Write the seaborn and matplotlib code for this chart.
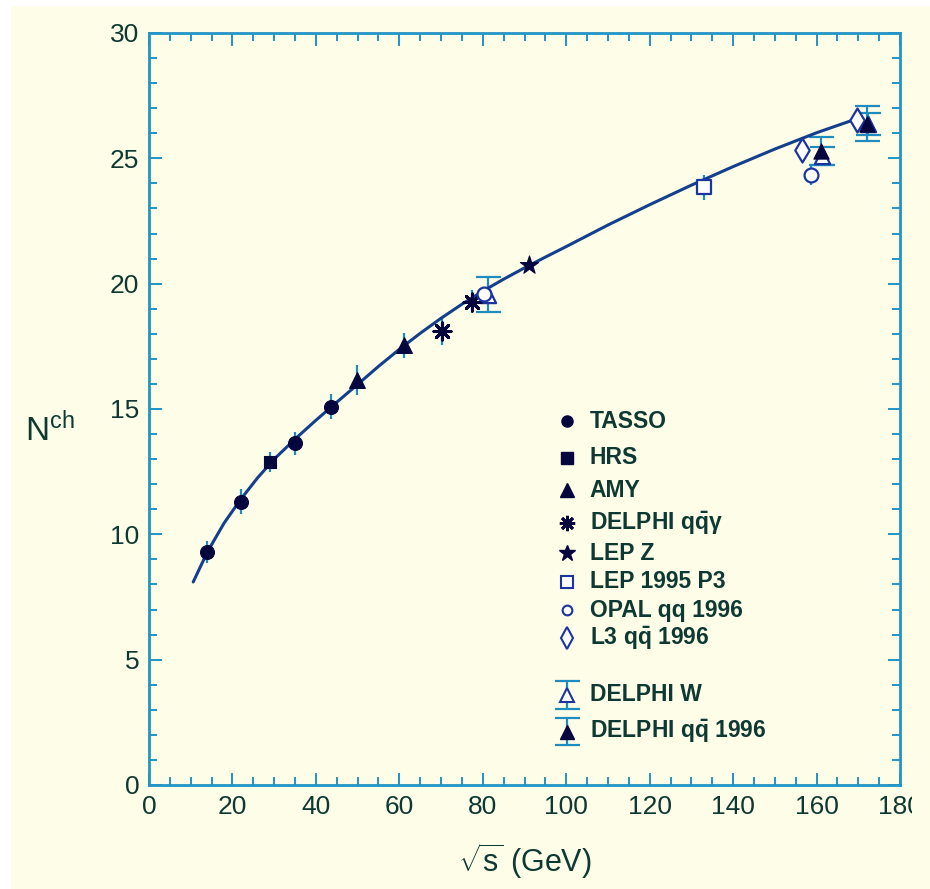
"""
Charged multiplicity vs centre-of-mass energy, redrawn with seaborn.
"""

import matplotlib
matplotlib.use("Agg")
import matplotlib.pyplot as plt
import seaborn as sns
from matplotlib.ticker import MultipleLocator
from matplotlib.patches import Rectangle
from matplotlib.transforms import Bbox, TransformedBbox

# ---------------------------------------------------------------------------
# Data
# ---------------------------------------------------------------------------

fit_x = [10.6, 14, 18, 22, 26, 30, 35, 40, 45, 50, 55, 60, 65, 70, 75, 80,
         85, 90, 95, 100, 110, 120, 130, 140, 150, 160, 170]
fit_y = [8.1, 9.3, 10.45, 11.4, 12.25, 13.0, 13.8, 14.55, 15.27, 15.98, 16.7,
         17.38, 18.02, 18.62, 19.18, 19.7, 20.18, 20.63, 21.06, 21.48, 22.34,
         23.15, 23.93, 24.67, 25.37, 26.02, 26.6]

tasso_x = [14, 22, 35, 43.6]
tasso_y = [9.3, 11.3, 13.63, 15.09]
tasso_err = [0.45, 0.5, 0.45, 0.5]

hrs_x = [29]
hrs_y = [12.87]
hrs_err = [0.4]

amy_x = [49.8, 61.2]
amy_y = [16.15, 17.55]
amy_err = [0.6, 0.5]

delphi_gam_x = [70.2, 77.3]
delphi_gam_y = [18.12, 19.28]
delphi_gam_err = [0.55, 0.45]

lepz_x = [91.0]
lepz_y = [20.75]
lepz_err = [0.2]

lep95_x = [133.0]
lep95_y = [23.85]
lep95_err = [0.5]

opal_x = [80.4, 158.6]
opal_y = [19.6, 24.33]
opal_err = [0.0, 0.4]

l3_x = [156.6, 169.6]
l3_y = [25.33, 26.53]

delphi_w_x = [81.3, 161.2, 172.4]
delphi_w_y = [19.55, 25.1, 26.37]
delphi_w_err = [0.7, 0.35, 0.44]

delphi_qq_x = [161.0, 172.2]
delphi_qq_y = [25.3, 26.38]
delphi_qq_err = [0.55, 0.7]

legend_labels = [
    "TASSO",
    "HRS",
    "AMY",
    r"DELPHI $\mathbf{q\bar{q}\gamma}$",
    "LEP Z",
    "LEP 1995 P3",
    "OPAL qq 1996",
    r"L3 $\mathbf{q\bar{q}}$ 1996",
    "DELPHI W",
    r"DELPHI $\mathbf{q\bar{q}}$ 1996",
]

# ---------------------------------------------------------------------------
# Styling
# ---------------------------------------------------------------------------

BG = "#fefde8"
SPINE = "#2294c6"
DARK = "#06063f"
OPEN_EDGE = "#1a34a0"
ERR = "#1f8cc0"
CURVE = "#143f8c"
TXT = "#0e3932"

sns.set_theme(style="ticks")
plt.rcParams["font.family"] = ["Liberation Sans", "DejaVu Sans"]
plt.rcParams["mathtext.fontset"] = "custom"
plt.rcParams["mathtext.rm"] = "Liberation Sans"
plt.rcParams["mathtext.it"] = "Liberation Sans:italic"
plt.rcParams["mathtext.bf"] = "Liberation Sans:bold"

fig = plt.figure(figsize=(9.3, 8.89), dpi=100, facecolor=BG)
ax = fig.add_axes([149 / 930, 104 / 889, 751 / 930, 752 / 889], facecolor=BG)

# thin white border at top / left, as in the scan
fig.add_artist(Rectangle((0, 0), 10 / 930, 1, transform=fig.transFigure,
                         color="white", zorder=-5))
fig.add_artist(Rectangle((0, 1 - 5 / 889), 1, 5 / 889, transform=fig.transFigure,
                         color="white", zorder=-5))

# fit curve
sns.lineplot(x=fit_x, y=fit_y, ax=ax, color=CURVE, linewidth=2.2,
             sort=False, zorder=2)

# error bars (no caps for the older measurements)
plain = [
    (tasso_x, tasso_y, tasso_err),
    (hrs_x, hrs_y, hrs_err),
    (amy_x, amy_y, amy_err),
    (delphi_gam_x, delphi_gam_y, delphi_gam_err),
    (lepz_x, lepz_y, lepz_err),
    (lep95_x, lep95_y, lep95_err),
    (opal_x, opal_y, opal_err),
]
for xs, ys, es in plain:
    ax.errorbar(xs, ys, yerr=es, fmt="none", ecolor=ERR, elinewidth=1.6,
                capsize=0, zorder=1)

ax.errorbar(delphi_w_x, delphi_w_y, yerr=delphi_w_err, fmt="none", ecolor=ERR,
            elinewidth=1.6, capsize=9, capthick=1.6, zorder=1)
ax.errorbar(delphi_qq_x, delphi_qq_y, yerr=delphi_qq_err, fmt="none", ecolor=ERR,
            elinewidth=1.6, capsize=9, capthick=1.6, zorder=1)

# markers
filled = dict(color=DARK, edgecolor=DARK, linewidth=0.8, zorder=4, legend=False)
opened = dict(color="white", edgecolor=OPEN_EDGE, linewidth=1.6, legend=False)

sns.scatterplot(x=tasso_x, y=tasso_y, marker="o", s=100, ax=ax, **filled)
sns.scatterplot(x=hrs_x, y=hrs_y, marker="s", s=85, ax=ax, **filled)
sns.scatterplot(x=amy_x, y=amy_y, marker="^", s=130, ax=ax, **filled)
sns.scatterplot(x=delphi_gam_x, y=delphi_gam_y, marker=(8, 2, 0), s=150, ax=ax,
                color=DARK, linewidth=2.2, zorder=4, legend=False)
sns.scatterplot(x=lepz_x, y=lepz_y, marker="*", s=190, ax=ax, **filled)
sns.scatterplot(x=lep95_x, y=lep95_y, marker="s", s=110, ax=ax, zorder=3, **opened)
sns.scatterplot(x=l3_x, y=l3_y, marker="d", s=150, ax=ax, zorder=3, **opened)
sns.scatterplot(x=delphi_w_x, y=delphi_w_y, marker="^", s=120, ax=ax, zorder=3, **opened)
sns.scatterplot(x=opal_x, y=opal_y, marker="o", s=100, ax=ax, zorder=5, **opened)
sns.scatterplot(x=delphi_qq_x, y=delphi_qq_y, marker="^", s=120, ax=ax, **filled)

# ---------------------------------------------------------------------------
# Hand-made legend (the original has a gap before the DELPHI entries)
# ---------------------------------------------------------------------------

leg_x, txt_x = 0.5566, 0.587
leg_rows = [0.484, 0.435, 0.392, 0.348, 0.3085, 0.270, 0.2327, 0.1955, 0.1197, 0.0709]
leg_styles = [
    dict(marker="o", ms=8, mfc=DARK, mec=DARK),
    dict(marker="s", ms=8, mfc=DARK, mec=DARK),
    dict(marker="^", ms=10, mfc=DARK, mec=DARK),
    dict(marker=(8, 2, 0), ms=11, mec=DARK, mew=2.0),
    dict(marker="*", ms=12, mfc=DARK, mec=DARK),
    dict(marker="s", ms=9, mfc="white", mec=OPEN_EDGE, mew=1.5),
    dict(marker="o", ms=7, mfc="white", mec=OPEN_EDGE, mew=1.5),
    dict(marker="d", ms=11, mfc="white", mec=OPEN_EDGE, mew=1.5),
    dict(marker="^", ms=10, mfc="white", mec=OPEN_EDGE, mew=1.5),
    dict(marker="^", ms=10, mfc=DARK, mec=DARK),
]
for i, (label, yy, st) in enumerate(zip(legend_labels, leg_rows, leg_styles)):
    if i >= 8:
        ax.errorbar([leg_x], [yy], yerr=[0.018], fmt="none", ecolor=ERR,
                    elinewidth=1.6, capsize=9, capthick=1.6,
                    transform=ax.transAxes, clip_on=False, zorder=3)
    ax.plot([leg_x], [yy], linestyle="none", transform=ax.transAxes,
            clip_on=False, zorder=4, **st)
    ax.text(txt_x, yy, label, transform=ax.transAxes, fontsize=16.5,
            fontweight="bold", color=TXT, ha="left", va="center")

# ---------------------------------------------------------------------------
# Axes
# ---------------------------------------------------------------------------

ax.set_xlim(0, 180)
ax.set_ylim(0, 30)
ax.xaxis.set_major_locator(MultipleLocator(20))
ax.xaxis.set_minor_locator(MultipleLocator(5))
ax.yaxis.set_major_locator(MultipleLocator(5))
ax.yaxis.set_minor_locator(MultipleLocator(1))
ax.tick_params(which="both", direction="in", top=True, right=True,
               color=SPINE, labelcolor=TXT, labelsize=19)
ax.tick_params(which="major", length=9, width=1.4, pad=7)
ax.tick_params(which="minor", length=5.5, width=1.4)
for sp in ax.spines.values():
    sp.set_color(SPINE)
    sp.set_linewidth(2)

ax.set_xlabel(r"$\sqrt{\mathrm{s}}$ (GeV)", fontsize=22, color=TXT, labelpad=16)
ax.set_ylabel(r"N$^{\mathrm{ch}}$", fontsize=24, color=TXT, rotation=0,
              ha="center", va="center")
ax.yaxis.set_label_coords(-0.132, 0.472)

# the scan cuts the last x label at the right edge
fig.canvas.draw()
clip = TransformedBbox(Bbox([[0, 0], [912 / 930, 1]]), fig.transFigure)
for lab in ax.get_xticklabels():
    lab.set_clip_box(clip)
    lab.set_clip_on(True)

fig.savefig("out.png", dpi=100, facecolor=BG)
plt.close(fig)
